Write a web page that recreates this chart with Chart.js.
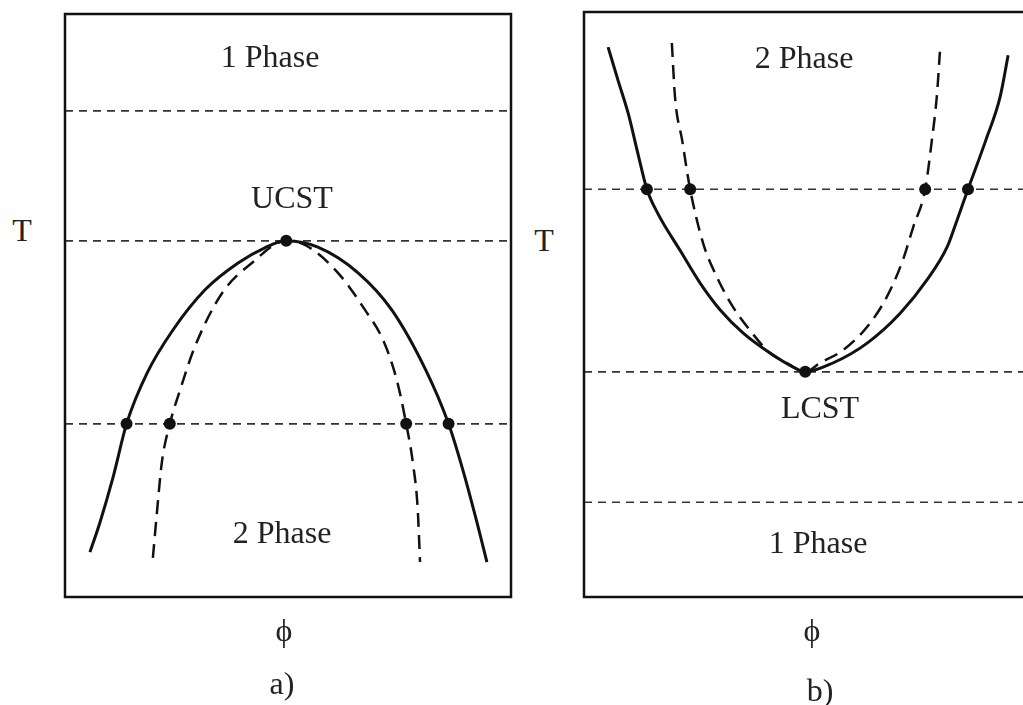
<!DOCTYPE html>
<html>
<head>
<meta charset="utf-8">
<script src="https://cdn.jsdelivr.net/npm/chart.js@4"></script>
<style>
  html, body { margin: 0; padding: 0; background: #fff; }
  body { width: 1023px; height: 705px; overflow: hidden; position: relative; }
  .panel { position: absolute; }
  .label {
    position: absolute;
    transform: translate(-50%, -50%);
    font-family: "Liberation Serif", "DejaVu Serif", serif;
    font-size: 32px;
    line-height: 1;
    color: #222;
    white-space: nowrap;
    -webkit-font-smoothing: antialiased;
  }
</style>
</head>
<body>

<div class="panel" style="left:55px; top:4px; width:466px; height:603px;"><canvas id="ucstChart"></canvas></div>
<div class="panel" style="left:574px; top:2px; width:466px; height:605px;"><canvas id="lcstChart"></canvas></div>

<!-- panel a labels -->
<div class="label" style="left:270px; top:56px;">1 Phase</div>
<div class="label" style="left:292px; top:197px;">UCST</div>
<div class="label" style="left:282px; top:532px;">2 Phase</div>
<div class="label" style="left:22px; top:230px;">T</div>
<div class="label" style="left:284px; top:630px;">ϕ</div>
<div class="label" style="left:282px; top:683px;">a)</div>

<!-- panel b labels -->
<div class="label" style="left:804px; top:57px;">2 Phase</div>
<div class="label" style="left:820px; top:407px;">LCST</div>
<div class="label" style="left:818px; top:542px;">1 Phase</div>
<div class="label" style="left:544px; top:240px;">T</div>
<div class="label" style="left:812px; top:630px;">ϕ</div>
<div class="label" style="left:820px; top:690px;">b)</div>

<script>
// ---- panel a (UCST) : phi / T in arbitrary 0..100 units ----
const binodalA_phi = [5.6, 7.8, 10.8, 13.8, 18.4, 24.2, 31.4, 38.8, 44.8, 49.6, 56.7, 65.7, 73.3, 80.9, 86.0, 89.2, 92.4, 94.6];
const binodalA_T   = [7.7, 12.7, 20.6, 29.7, 38.4, 45.8, 52.7, 57.3, 59.9, 61.1, 60.0, 55.6, 49.2, 38.9, 29.7, 21.8, 12.7, 6.0];
const spinodalA_phi = [19.7, 20.6, 21.7, 23.5, 25.8, 29.1, 35.2, 41.9, 49.6, 53.8, 61.2, 67.3, 71.3, 74.4, 76.5, 78.0, 79.1, 79.6];
const spinodalA_T   = [6.7, 14.4, 23.0, 29.7, 35.5, 42.9, 52.1, 57.3, 61.1, 60.4, 55.6, 49.2, 44.1, 37.2, 29.7, 23.0, 14.9, 6.0];
const levelsA = [83.4, 61.1, 29.7];
const tiePointsA_phi = [13.8, 23.5, 76.5, 86.0];
const tieLevelA = 29.7;
const criticalA = { phi: 49.6, T: 61.1 };

// ---- panel b (LCST) ----
const binodalB_phi = [5.4, 7.6, 9.9, 11.9, 14.1, 16.6, 21.5, 26.0, 30.5, 35.7, 41.7, 46.9, 49.6, 55.8, 63.5, 70.9, 76.9, 81.4, 83.4, 86.1, 90.1, 93.3, 95.1];
const binodalB_T   = [94.0, 88.4, 82.7, 76.4, 69.7, 65.5, 59.3, 53.7, 49.1, 45.1, 41.7, 39.3, 38.5, 40.0, 43.4, 48.5, 54.2, 59.8, 63.9, 69.7, 78.1, 85.5, 92.6];
const spinodalB_phi = [19.7, 20.4, 22.0, 23.8, 26.7, 29.8, 33.4, 37.2, 41.7, 45.5, 49.6, 52.9, 58.1, 63.5, 67.9, 71.5, 73.8, 76.5, 78.0, 79.1, 79.8];
const spinodalB_T   = [94.7, 85.5, 78.1, 69.7, 60.5, 54.7, 49.6, 45.6, 41.7, 40.0, 38.5, 40.0, 42.2, 46.2, 51.3, 57.6, 63.2, 69.7, 78.1, 85.5, 93.2];
const levelsB = [69.7, 38.5, 16.2];
const tiePointsB_phi = [14.1, 23.8, 76.5, 86.1];
const tieLevelB = 69.7;
const criticalB = { phi: 49.6, T: 38.5 };

const zip = (xs, ys) => xs.map((x, i) => ({ x: x, y: ys[i] }));

// draws the closed frame round the plot area
const framePlugin = {
  id: 'frame',
  afterDraw(chart) {
    const a = chart.chartArea;
    const ctx = chart.ctx;
    ctx.save();
    ctx.strokeStyle = '#111';
    ctx.lineWidth = 2.5;
    ctx.strokeRect(a.left, a.top, a.right - a.left, a.bottom - a.top);
    ctx.restore();
  }
};

function buildChart(canvasId, binodal, spinodal, levels, tiePhis, tieLevel, critical) {
  const datasets = [];

  // tie-line end points and critical point (on top)
  datasets.push({
    data: tiePhis.map(p => ({ x: p, y: tieLevel })).concat([{ x: critical.phi, y: critical.T }]),
    pointRadius: 6,
    pointBackgroundColor: '#111',
    pointBorderWidth: 0,
    showLine: false
  });

  datasets.push({
    data: binodal,
    showLine: true,
    borderColor: '#111',
    borderWidth: 3,
    pointRadius: 0,
    cubicInterpolationMode: 'monotone'
  });

  datasets.push({
    data: spinodal,
    showLine: true,
    borderColor: '#111',
    borderWidth: 2.5,
    borderDash: [14, 8],
    pointRadius: 0,
    cubicInterpolationMode: 'monotone'
  });

  levels.forEach(t => {
    datasets.push({
      data: [{ x: 0, y: t }, { x: 100, y: t }],
      showLine: true,
      borderColor: '#333',
      borderWidth: 1.7,
      borderDash: [8, 6],
      pointRadius: 0
    });
  });

  return new Chart(document.getElementById(canvasId), {
    type: 'scatter',
    data: { datasets: datasets },
    options: {
      responsive: true,
      maintainAspectRatio: false,
      animation: false,
      layout: { padding: 10 },
      plugins: { legend: { display: false }, tooltip: { enabled: false } },
      scales: {
        x: { type: 'linear', min: 0, max: 100, display: false },
        y: { type: 'linear', min: 0, max: 100, display: false }
      }
    },
    plugins: [framePlugin]
  });
}

buildChart('ucstChart', zip(binodalA_phi, binodalA_T), zip(spinodalA_phi, spinodalA_T),
  levelsA, tiePointsA_phi, tieLevelA, criticalA);
buildChart('lcstChart', zip(binodalB_phi, binodalB_T), zip(spinodalB_phi, spinodalB_T),
  levelsB, tiePointsB_phi, tieLevelB, criticalB);
</script>
</body>
</html>
